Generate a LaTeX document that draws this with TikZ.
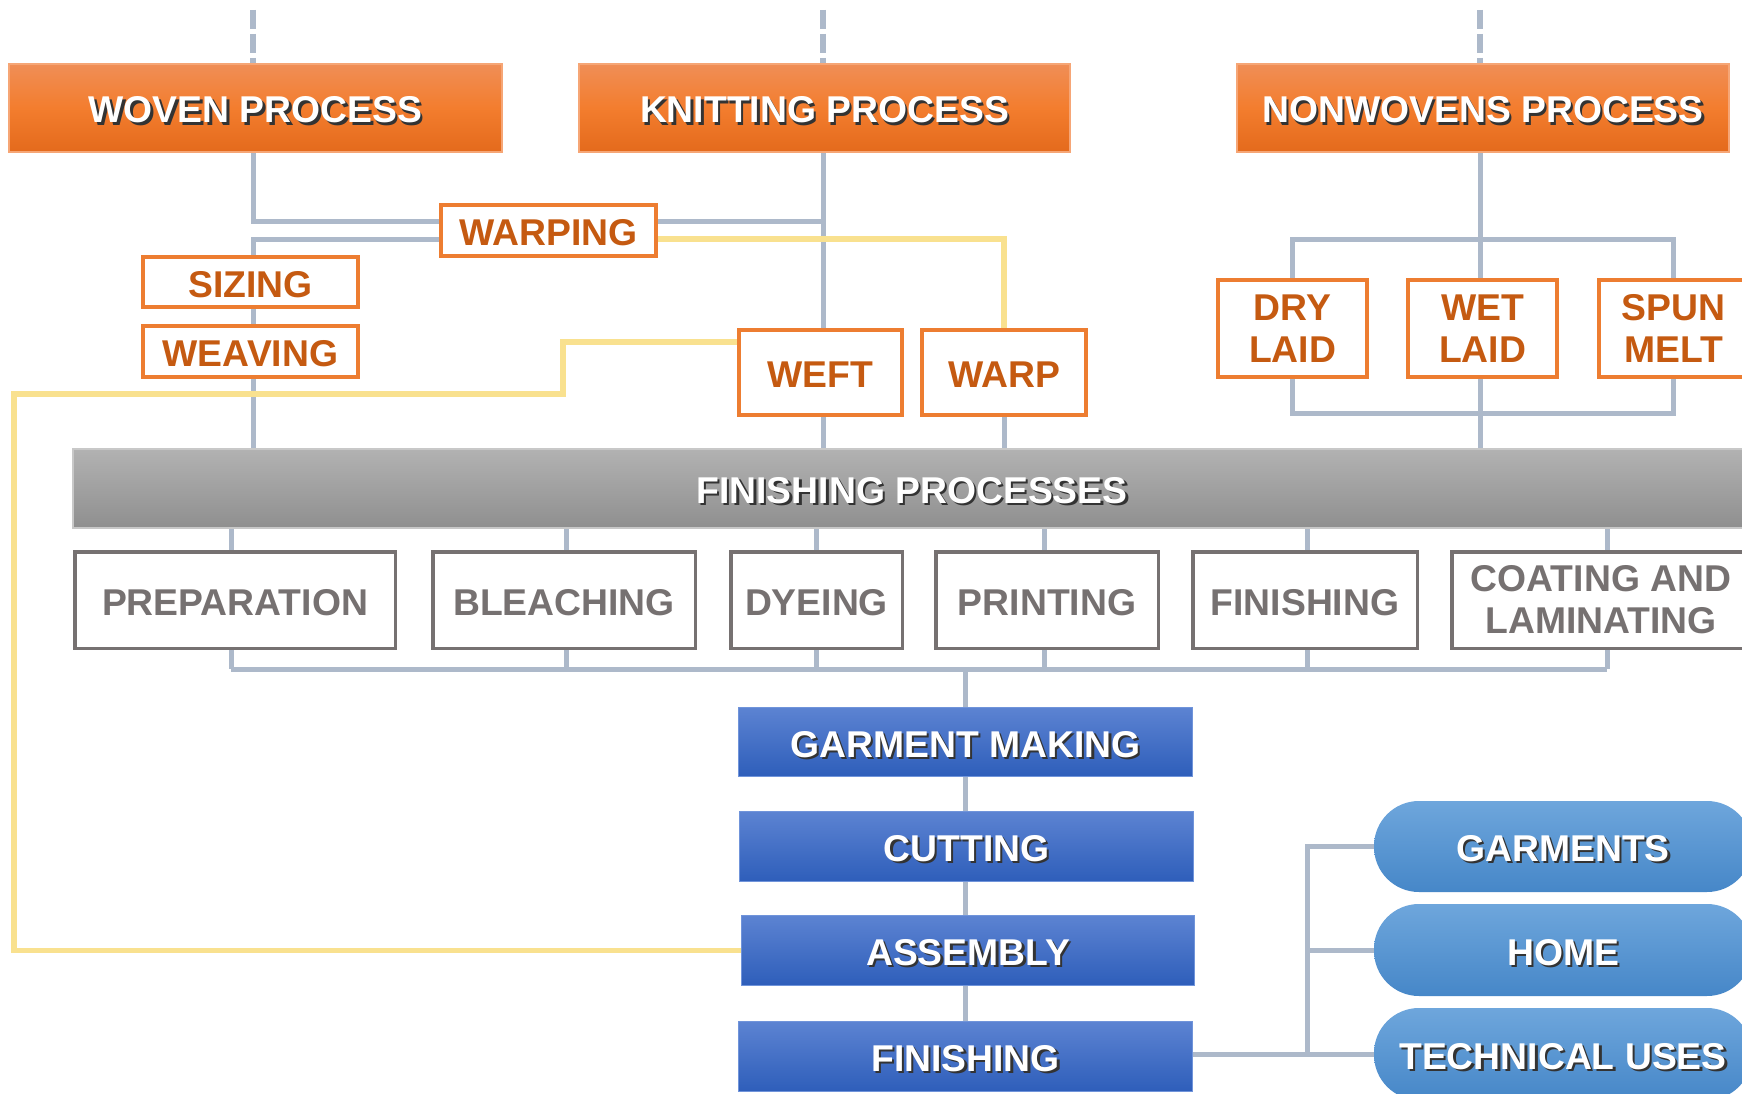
\documentclass[tikz,border=0pt]{standalone}
\usepackage{fontspec}
\setmainfont{Liberation Sans}

\definecolor{hdrtop}{RGB}{240,142,86}
\definecolor{hdrmid}{RGB}{243,125,46}
\definecolor{hdrbot}{RGB}{228,106,28}
\definecolor{hdrline}{RGB}{246,166,118}
\definecolor{otext}{RGB}{197,90,17}
\definecolor{oline}{RGB}{237,125,49}
\definecolor{gtext}{RGB}{118,113,113}
\definecolor{bartop}{RGB}{178,178,178}
\definecolor{barbot}{RGB}{143,143,143}
\definecolor{barline}{RGB}{200,200,200}
\definecolor{blutop}{RGB}{92,131,210}
\definecolor{blubot}{RGB}{46,94,186}
\definecolor{bluline}{RGB}{112,148,218}
\definecolor{piltop}{RGB}{110,166,220}
\definecolor{pilbot}{RGB}{70,135,200}
\definecolor{link}{RGB}{173,185,202}
\definecolor{yel}{RGB}{249,225,143}

\pgfdeclarelayer{paper}
\pgfdeclarelayer{wires}
\pgfsetlayers{paper,wires,main}

% white lettering with a dark drop shadow
\newcommand\shadowed[1]{\leavevmode\rlap{\kern2.4pt\raisebox{-2.4pt}[0pt][0pt]{\textcolor{black!80}{#1}}}#1}

\tikzset{
  lettering/.style={font=\fontsize{37.3}{42}\selectfont\bfseries, align=center, inner sep=0pt},
  oneline/.style={text height=30pt, text depth=0pt},
  headbox/.style={lettering, oneline, text=white, top color=hdrtop, bottom color=hdrbot, middle color=hdrmid,
                  draw=hdrline, line width=1.2pt},
  orgbase/.style={lettering, text=otext, draw=oline, line width=4pt, fill=white},
  orgbox/.style={orgbase, oneline},
  graybase/.style={lettering, text=gtext, draw=gtext, line width=3.5pt, fill=white},
  graybox/.style={graybase, oneline},
  barbox/.style={lettering, oneline, text=white, top color=bartop, bottom color=barbot, draw=barline, line width=1.2pt},
  bluebox/.style={lettering, oneline, text=white, top color=blutop, bottom color=blubot, draw=bluline, line width=1.2pt},
  pillbox/.style={lettering, oneline, text=white, rounded corners=45pt, top color=piltop, bottom color=pilbot},
  wire/.style={draw=link, line width=5pt},
  feed/.style={draw=link, line width=6pt, dash pattern=on 19pt off 5pt},
  yelwire/.style={draw=yel, line width=5.5pt},
}

\begin{document}
\begin{tikzpicture}[x=1pt, y=-1pt]
\useasboundingbox (0,0) rectangle (1742,1094);
\begin{pgfonlayer}{paper}
  \fill[white] (0,0) rectangle (1742,1094);
\end{pgfonlayer}

% process headers
\node[headbox, minimum width=493, minimum height=88] (woven) at (255.5,108) {\shadowed{WOVEN PROCESS}};
\node[headbox, minimum width=491, minimum height=88] (knit)  at (824.5,108) {\shadowed{KNITTING PROCESS}};
\node[headbox, minimum width=492, minimum height=88] (nonw)  at (1483,108)  {\shadowed{NONWOVENS PROCESS}};

% fabric forming steps
\node[orgbox, minimum width=215, minimum height=51] (warping) at (548.5,230.5) {WARPING};
\node[orgbox, minimum width=215, minimum height=50] (sizing)  at (250.5,282)   {SIZING};
\node[orgbox, minimum width=215, minimum height=51] (weaving) at (250.5,351.5) {WEAVING};
\node[orgbox, minimum width=163, minimum height=85] (weft)    at (820.5,372.5) {WEFT};
\node[orgbox, minimum width=164, minimum height=85] (warp)    at (1004,372.5)  {WARP};
\node[orgbase, minimum width=149, minimum height=97] (dry)    at (1292.5,328.5) {DRY\\LAID};
\node[orgbase, minimum width=149, minimum height=97] (wet)    at (1482.5,328.5) {WET\\LAID};
\node[orgbase, minimum width=149, minimum height=97] (spun)   at (1673.5,328.5) {SPUN\\MELT};

% finishing
\node[barbox, minimum width=1678, minimum height=79] (bar) at (912,488.5) {\shadowed{FINISHING PROCESSES}};
\node[graybox, minimum width=320.5, minimum height=96.5] (prep)   at (235,600)  {PREPARATION};
\node[graybox, minimum width=262.5, minimum height=96.5] (bleach) at (564,600)  {BLEACHING};
\node[graybox, minimum width=171.5, minimum height=96.5] (dye)    at (816.5,600) {DYEING};
\node[graybox, minimum width=222.5, minimum height=96.5] (print)  at (1047,600) {PRINTING};
\node[graybox, minimum width=224.5, minimum height=96.5] (fin)    at (1305,600) {FINISHING};
\node[graybase, minimum width=298.5, minimum height=96.5] (coat)  at (1601,600) {COATING AND\\LAMINATING};

% garment making
\node[bluebox, minimum width=454, minimum height=69] (gm)   at (965.5,742)   {\shadowed{GARMENT MAKING}};
\node[bluebox, minimum width=454, minimum height=70] (cut)  at (966.5,846.5) {\shadowed{CUTTING}};
\node[bluebox, minimum width=453, minimum height=70] (asm)  at (968,950.5)   {\shadowed{ASSEMBLY}};
\node[bluebox, minimum width=454, minimum height=70] (fin2) at (965.5,1056.5) {\shadowed{FINISHING}};

% end uses
\node[pillbox, minimum width=378, minimum height=91] (garm) at (1563,846.5) {\shadowed{GARMENTS}};
\node[pillbox, minimum width=378, minimum height=92] (home) at (1563,950)   {\shadowed{HOME}};
\node[pillbox, minimum width=378, minimum height=92] (tech) at (1563,1054)  {\shadowed{TECHNICAL USES}};

\begin{pgfonlayer}{wires}
  % incoming feeds
  \coordinate (wovenin) at (253,10);
  \coordinate (knitin)  at (823,10);
  \coordinate (nonwin)  at (1480,10);
  \draw[feed] (wovenin) -- (wovenin |- woven.north);
  \draw[feed] (knitin)  -- (knitin |- knit.north);
  \draw[feed] (nonwin)  -- (nonwin |- nonw.north);

  % woven and knitting branches
  \draw[wire] (wovenin |- woven.south) |- (knitin |- 0,221);
  \draw[wire] (knitin |- knit.south) -- (knitin |- weft.north);
  \draw[wire] (warping.west |- 0,239) -| (wovenin |- bar.north);
  \draw[wire] (knitin |- weft.south) -- (knitin |- bar.north);
  \draw[wire] (warp.south) -- (warp.south |- bar.north);

  % nonwovens branches
  \draw[wire] (nonwin |- nonw.south) -- (nonwin |- wet.north);
  \draw[wire] (dry.north) -- (dry.north |- 0,239) -- (spun.north |- 0,239) -- (spun.north);
  \draw[wire] (dry.south) -- (dry.south |- 0,413) -- (spun.south |- 0,413) -- (spun.south);
  \draw[wire] (nonwin |- wet.south) -- (nonwin |- bar.north);

  % finishing steps
  \foreach \n/\x in {prep/231,bleach/566,dye/816,print/1044,fin/1307,coat/1607} {
    \draw[wire] (bar.south -| \x,0) -- (\n.north -| \x,0);
    \draw[wire] (\n.south -| \x,0) -- (\x,669);
  }
  \draw[wire] (231,669) -- (1607,669);
  \draw[wire] (gm.north |- 0,669) -- (gm.north);
  \draw[wire] (gm.south) -- (gm.south |- fin2.north);

  % end uses
  \draw[wire] (fin2.east |- tech.west) -- (tech.west);
  \draw[wire] (garm.west) -- ++(-66,0) coordinate (tj) -- (tj |- tech.west);
  \draw[wire] (home.west) -- (home.west -| tj);

  % yarn routes
  \draw[yelwire] (warping.east |- 0,239) -| (warp.north);
  \draw[yelwire] (weft.west |- 0,342) -- (563,342) -- (563,394) -- (14,394) -- (14,950.5) -- (asm.west);
\end{pgfonlayer}
\end{tikzpicture}
\end{document}
